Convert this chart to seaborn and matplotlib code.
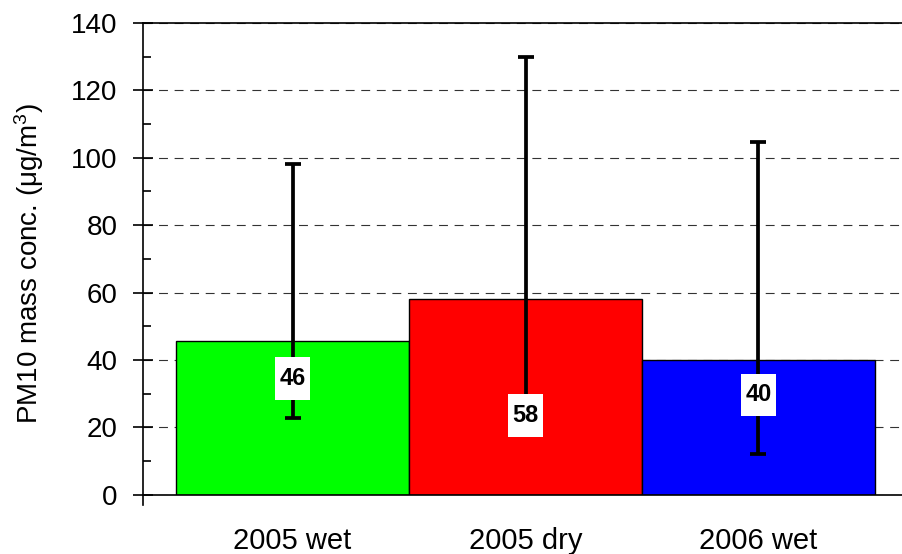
import numpy as np
import matplotlib
matplotlib.use("Agg")
import matplotlib.pyplot as plt
from matplotlib.path import Path
import seaborn as sns

# Data
periods = ['2005 wet', '2005 dry', '2006 wet']
means = [45.6, 58.0, 40.0]
err_low = [22.8, 26.0, 12.2]
err_high = [98.2, 130.0, 104.8]
bar_colors = ['#00ff00', '#ff0000', '#0000ff']
label_text = ['46', '58', '40']
label_y = [34.5, 23.5, 29.6]

sns.set_style('ticks')
plt.rcParams['font.family'] = ['Liberation Sans', 'DejaVu Sans']
plt.rcParams['mathtext.fontset'] = 'custom'
plt.rcParams['mathtext.rm'] = 'Liberation Sans'
plt.rcParams['mathtext.default'] = 'regular'
for key in ['text.color', 'axes.labelcolor', 'xtick.color', 'ytick.color']:
    plt.rcParams[key] = 'black'


def tall_box(x0, y0, width, height, mutation_size):
    # white label box, taller than wide like the original
    px = 0.17 * mutation_size
    py = 0.42 * mutation_size
    x0, y0 = x0 - px, y0 - py
    x1, y1 = x0 + width + 2 * px, y0 + height + 2 * py
    return Path([(x0, y0), (x1, y0), (x1, y1), (x0, y1), (x0, y0)], closed=True)


fig = plt.figure(figsize=(9.02, 5.54), dpi=100)
ax = fig.add_axes([0.1585, 0.107, 0.8415, 0.8515])

sns.barplot(x=periods, y=means, hue=periods, palette=bar_colors, width=1.0,
            saturation=1, edgecolor='black', linewidth=1.0, legend=False,
            errorbar=None, ax=ax, zorder=2)

means_a = np.array(means)
yerr = [means_a - np.array(err_low), np.array(err_high) - means_a]
ax.errorbar(x=np.arange(len(periods)), y=means, yerr=yerr, fmt='none',
            ecolor='black', elinewidth=2.7, capsize=5.8, capthick=2.7, zorder=3)

for i, (txt, yy) in enumerate(zip(label_text, label_y)):
    ax.text(i, yy, txt, ha='center', va='center', fontsize=17, fontweight='bold',
            zorder=5, bbox=dict(boxstyle=tall_box, facecolor='white', edgecolor='none'))

ax.set_xlim(-0.642, 2.616)
ax.set_ylim(0, 140)
ax.set_yticks(np.arange(0, 141, 20))
ax.set_yticks(np.arange(10, 140, 20), minor=True)
ax.yaxis.grid(True, which='major', color='#333333', linestyle=(0, (8, 6)), linewidth=0.8)
ax.set_axisbelow(True)

ax.tick_params(axis='y', which='major', direction='inout', length=14, width=1.2,
               labelsize=20, pad=11.5)
ax.tick_params(axis='y', which='minor', direction='in', length=6, width=1.2)
ax.tick_params(axis='x', length=0, labelsize=21, pad=23)

ax.set_xlabel('')
ax.set_ylabel(r'PM10 mass conc. (μg/m$^3$)', fontsize=20)
ax.yaxis.set_label_coords(-0.128, 0.49)

for side in ['left', 'top', 'bottom']:
    ax.spines[side].set_linewidth(1.2)
    ax.spines[side].set_color('black')
ax.spines['right'].set_visible(False)
ax.spines['left'].set_bounds(-3, 140)

fig.savefig('out.png', dpi=100)
